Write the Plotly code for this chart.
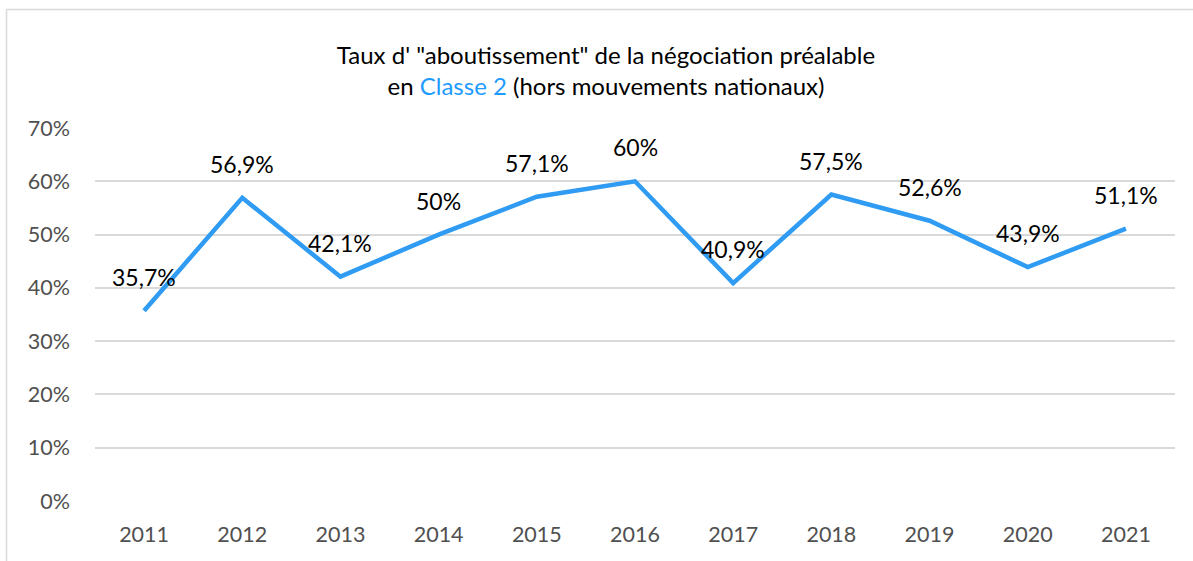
import plotly.graph_objects as go

years = ["2011", "2012", "2013", "2014", "2015", "2016", "2017", "2018", "2019", "2020", "2021"]
rates = [0.357, 0.569, 0.421, 0.50, 0.571, 0.60, 0.409, 0.575, 0.526, 0.439, 0.511]
labels = ["35,7%", "56,9%", "42,1%", "50%", "57,1%", "60%", "40,9%", "57,5%", "52,6%", "43,9%", "51,1%"]
y_ticks = [0, 0.1, 0.2, 0.3, 0.4, 0.5, 0.6, 0.7]
y_tick_text = ["0%", "10%", "20%", "30%", "40%", "50%", "60%", "70%"]

LINE = "#2F9BF3"
FONT = "Lato, 'Open Sans', sans-serif"

fig = go.Figure()
fig.add_trace(go.Scatter(
    x=years, y=rates, mode="lines",
    line=dict(color=LINE, width=4.5),
    hoverinfo="skip", showlegend=False,
))

for i, (v, t) in enumerate(zip(rates, labels)):
    fig.add_annotation(x=i, y=v, xref="x", yref="y", text=t, showarrow=False,
                       yshift=34, font=dict(family=FONT, size=23, color="#000000"))

W, H = 1193, 561
ml, mr, mt, mb = 95, 18, 128, 60
pw, ph = W - ml - mr, H - mt - mb

def px_x(p):
    return (p - ml) / pw

def px_y(p):
    return (H - mb - p) / ph

# chart frame (top and left edges)
fig.add_shape(type="line", xref="paper", yref="paper",
              x0=px_x(6.5), x1=px_x(1200), y0=px_y(9.5), y1=px_y(9.5),
              line=dict(color="#D9D9D9", width=1.5))
fig.add_shape(type="line", xref="paper", yref="paper",
              x0=px_x(6.5), x1=px_x(6.5), y0=px_y(9.5), y1=px_y(570),
              line=dict(color="#D9D9D9", width=1.5))

fig.update_layout(
    width=W, height=H,
    margin=dict(l=ml, r=mr, t=mt, b=mb),
    paper_bgcolor="white", plot_bgcolor="white",
    font=dict(family=FONT),
    title=dict(
        text="Taux d' \"aboutissement\" de la négociation préalable<br>en <span style='color:#1E9BFF'>Classe 2</span> (hors mouvements nationaux)",
        x=606 / W, xanchor="center", xref="container",
        y=1 - 63.5 / H, yanchor="middle", yref="container",
        font=dict(family=FONT, size=24, color="#000000"),
    ),
    xaxis=dict(
        type="category", showgrid=False, zeroline=False, showline=False,
        ticks="", tickfont=dict(family=FONT, size=21.5, color="#505050"),
        range=[-0.5, len(years) - 0.5], ticklabelstandoff=18,
    ),
    yaxis=dict(
        range=[0, 0.7], tickvals=y_ticks, ticktext=y_tick_text,
        showgrid=True, gridcolor="#D9D9D9", gridwidth=1.5,
        zeroline=False, showline=False, ticks="",
        tickfont=dict(family=FONT, size=21.5, color="#505050"),
        ticklabelstandoff=24,
    ),
)

fig.write_html("out.html", config={"displayModeBar": False},
               post_script="document.body.style.margin='0';document.body.style.overflow='hidden';")
